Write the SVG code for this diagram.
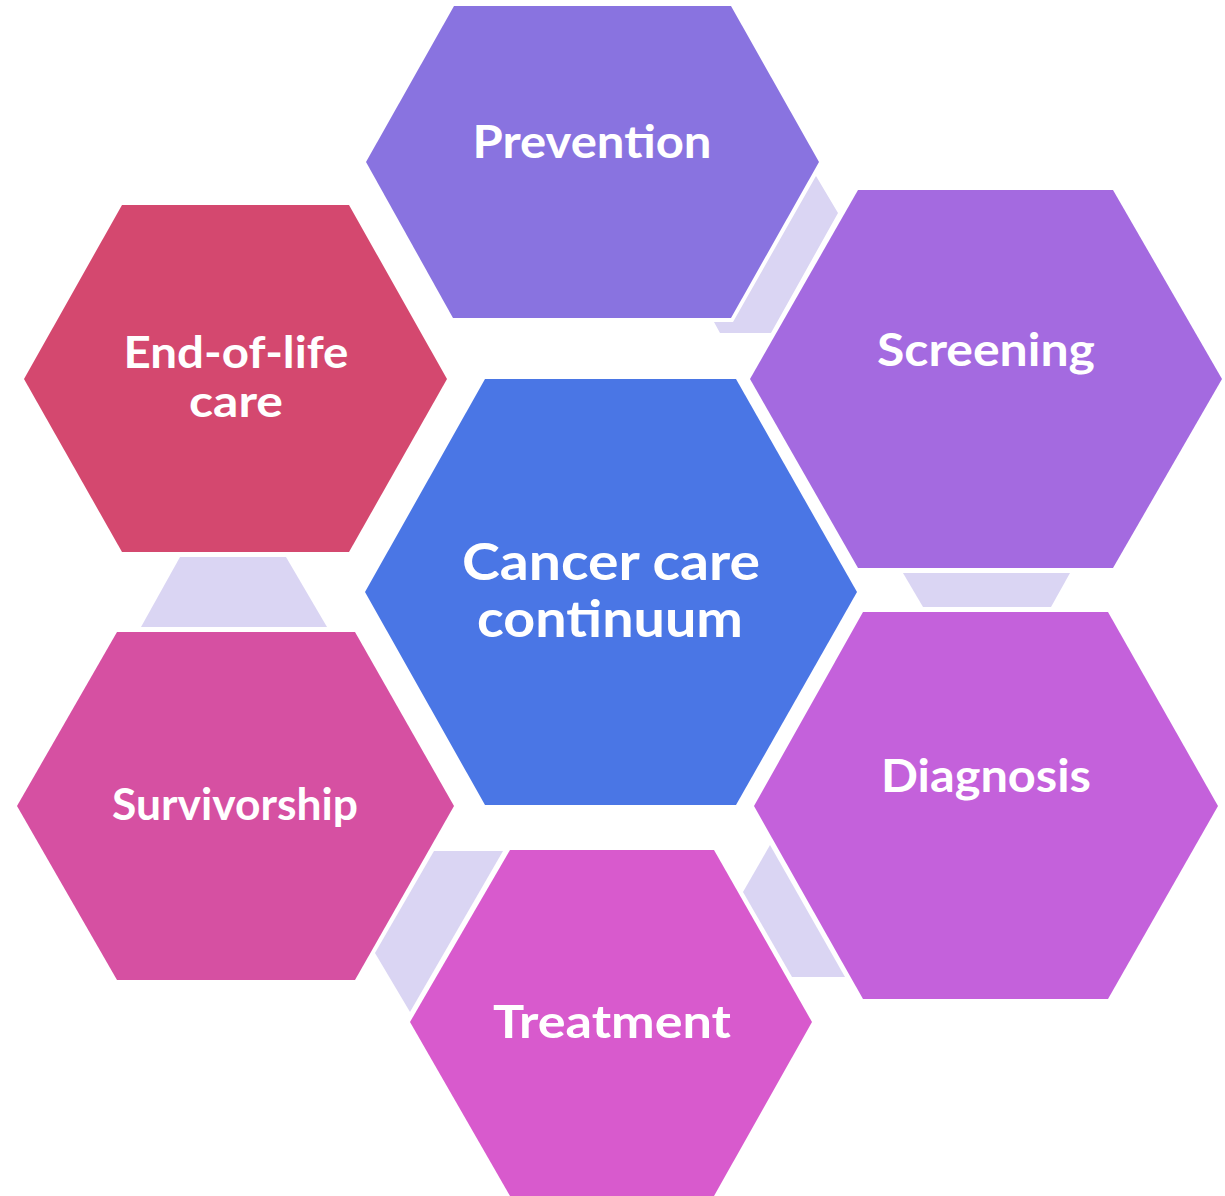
<svg xmlns="http://www.w3.org/2000/svg" width="1225" height="1196" viewBox="0 0 1225 1196">
<style>
.lbl{font-family:"Lato","Open Sans","Liberation Sans",sans-serif;font-weight:bold;fill:#ffffff;text-anchor:middle}
.conn{fill:#DAD5F3}
</style>
<rect width="1225" height="1196" fill="#ffffff"/>
<g id="connectors">
<polygon class="conn" points="816,176 838,213 771,333 720,333 714,322 733,322"/>
<polygon class="conn" points="903,573 1070,573 1051,607 923,607"/>
<polygon class="conn" points="180,557 286,557 327,627 141,627"/>
<polygon class="conn" points="434,851 503,851 410,1012 375,953"/>
<polygon class="conn" points="770,845 845,977 792,977 743,892"/>
</g>
<g id="prevention">
<polygon fill="#8973E0" points="454,6 731,6 819,162 731,318 453,318 366,162"/>
<text class="lbl" x="592" y="158" font-size="46" textLength="239" lengthAdjust="spacingAndGlyphs">Prevention</text>
</g>
<g id="screening">
<polygon fill="#A46AE0" points="858,190 1113,190 1222,379 1113,568 858,568 750,379"/>
<text class="lbl" x="986" y="366" font-size="46" textLength="218" lengthAdjust="spacingAndGlyphs">Screening</text>
</g>
<g id="diagnosis">
<polygon fill="#C461DB" points="863,612 1108,612 1218,806 1108,999 863,999 754,806"/>
<text class="lbl" x="986" y="792" font-size="46" textLength="210" lengthAdjust="spacingAndGlyphs">Diagnosis</text>
</g>
<g id="treatment">
<polygon fill="#D85ACD" points="510,850 714,850 812,1022 714,1196 510,1196 410,1022"/>
<text class="lbl" x="612" y="1038" font-size="46" textLength="238" lengthAdjust="spacingAndGlyphs">Treatment</text>
</g>
<g id="survivorship">
<polygon fill="#D650A2" points="117,632 355,632 454,806 355,980 117,980 17,806"/>
<text class="lbl" x="235" y="820" font-size="44" textLength="246" lengthAdjust="spacingAndGlyphs">Survivorship</text>
</g>
<g id="end-of-life">
<polygon fill="#D4486F" points="122,205 349,205 447,379 349,552 122,552 24,379"/>
<text class="lbl" x="236" y="368" font-size="44" textLength="225" lengthAdjust="spacingAndGlyphs">End-of-life</text>
<text class="lbl" x="236" y="417" font-size="44" textLength="94" lengthAdjust="spacingAndGlyphs">care</text>
</g>
<g id="center">
<polygon fill="#4A76E5" points="485,379 736,379 857,592 736,805 485,805 365,592"/>
<text class="lbl" x="611" y="580" font-size="52" textLength="298" lengthAdjust="spacingAndGlyphs">Cancer care</text>
<text class="lbl" x="610" y="637" font-size="52" textLength="266" lengthAdjust="spacingAndGlyphs">continuum</text>
</g>
</svg>
